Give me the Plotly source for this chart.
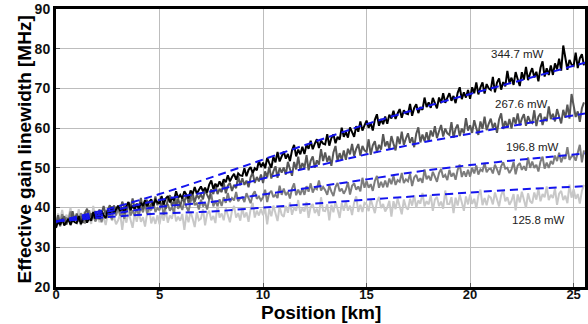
import plotly.graph_objects as go

# Sampling positions along the fibre [km] (0.1 km step, 0.0 .. 25.5)
positions_km = [round(i * 0.1, 1) for i in range(256)]

power_labels = ["344.7 mW", "267.6 mW", "196.8 mW", "125.8 mW"]

lw_344 = [
    34.9, 36.5, 35.7, 37.1, 35.5, 36.5, 37.2, 35.6, 36.9, 36.3,
    36.1, 37.9, 35.8, 37.2, 37.8, 36.2, 37.3, 36.7, 38.9, 37.2,
    38.0, 37.1, 39.0, 38.1, 37.3, 39.3, 38.3, 40.2, 38.5, 39.5,
    40.4, 39.1, 39.9, 38.6, 40.5, 41.4, 39.3, 40.5, 39.6, 40.9,
    39.6, 41.2, 40.4, 41.9, 40.3, 41.4, 42.1, 40.5, 41.9, 41.3,
    41.1, 42.9, 40.8, 42.3, 42.9, 41.3, 42.4, 41.8, 44.1, 42.4,
    43.2, 42.3, 44.1, 43.2, 42.3, 44.3, 43.4, 45.2, 43.5, 44.4,
    45.3, 44.1, 45.0, 43.8, 45.8, 46.8, 44.7, 46.0, 45.2, 46.6,
    45.4, 47.1, 46.4, 48.1, 46.6, 47.7, 48.5, 47.0, 48.6, 48.1,
    48.0, 49.9, 47.9, 49.5, 50.2, 48.7, 49.9, 49.4, 51.8, 50.2,
    51.3, 49.9, 52.5, 51.2, 50.0, 52.8, 51.4, 54.0, 51.6, 52.9,
    54.1, 52.3, 53.5, 51.7, 54.4, 55.8, 52.9, 54.6, 53.4, 55.3,
    53.5, 55.8, 54.8, 56.8, 54.7, 56.1, 57.2, 55.0, 56.9, 56.1,
    55.9, 58.5, 55.6, 57.5, 58.4, 56.2, 57.8, 57.1, 60.1, 57.8,
    59.0, 57.6, 60.2, 59.0, 57.8, 60.5, 59.1, 61.7, 59.4, 60.7,
    61.9, 60.1, 61.3, 59.4, 62.1, 63.5, 60.6, 62.3, 61.0, 62.9,
    61.1, 63.4, 62.4, 64.4, 62.3, 63.7, 64.8, 62.6, 64.5, 63.7,
    63.5, 66.1, 63.1, 65.1, 66.0, 63.8, 65.3, 64.6, 67.7, 65.3,
    66.5, 65.1, 67.6, 66.3, 65.0, 67.7, 66.3, 68.8, 66.4, 67.6,
    68.8, 66.9, 68.1, 66.3, 68.9, 70.3, 67.3, 69.0, 67.7, 69.6,
    67.4, 70.3, 68.8, 71.5, 68.5, 70.3, 71.5, 68.7, 71.1, 70.0,
    69.6, 72.9, 69.0, 71.5, 72.5, 69.7, 71.6, 70.5, 74.4, 71.4,
    72.7, 70.9, 74.1, 72.3, 70.6, 74.1, 72.2, 75.4, 72.1, 73.8,
    75.1, 72.8, 74.2, 71.8, 75.2, 76.8, 73.0, 75.1, 73.4, 75.8,
    73.4, 76.3, 74.8, 77.5, 74.5, 80.8, 77.6, 74.7, 77.2, 76.0,
    75.7, 79.0, 75.1, 77.6, 78.6, 75.8,
]

lw_267 = [
    35.7, 38.1, 35.3, 37.1, 37.8, 35.7, 37.0, 36.2, 39.1, 36.8,
    38.5, 36.7, 37.8, 36.1, 38.6, 39.7, 37.0, 38.5, 37.4, 39.1,
    37.3, 39.5, 38.4, 40.4, 38.3, 39.7, 40.6, 38.6, 40.4, 39.6,
    40.5, 39.2, 41.5, 40.1, 38.9, 41.3, 40.0, 42.3, 39.8, 41.0,
    40.1, 42.4, 39.5, 41.3, 41.9, 39.7, 41.0, 40.1, 42.8, 40.6,
    42.2, 40.4, 41.4, 39.6, 42.0, 43.1, 40.3, 41.8, 40.5, 42.2,
    40.3, 42.4, 41.4, 43.3, 41.2, 42.6, 43.5, 41.4, 43.2, 42.4,
    43.3, 42.1, 44.5, 43.2, 42.1, 44.6, 43.4, 45.8, 43.4, 44.7,
    43.9, 46.4, 43.6, 45.5, 46.2, 44.2, 45.7, 44.9, 47.9, 45.6,
    47.4, 45.7, 46.8, 45.1, 47.6, 48.8, 46.2, 47.7, 46.6, 48.3,
    46.2, 49.1, 47.6, 50.3, 47.3, 49.1, 50.4, 47.5, 50.0, 48.8,
    50.1, 48.3, 51.5, 49.7, 48.0, 51.5, 49.6, 52.8, 49.5, 51.2,
    50.0, 53.2, 49.4, 51.8, 52.9, 50.0, 51.9, 50.8, 54.7, 51.7,
    53.9, 51.5, 53.0, 50.5, 53.9, 55.5, 51.7, 53.7, 52.0, 54.4,
    52.0, 54.8, 53.4, 56.0, 53.0, 54.8, 56.0, 53.1, 55.5, 54.4,
    54.0, 57.2, 53.3, 55.7, 56.7, 53.9, 55.8, 54.6, 58.5, 55.4,
    56.7, 54.8, 58.0, 56.1, 54.4, 57.9, 56.0, 59.1, 55.8, 57.4,
    58.7, 56.3, 57.7, 55.2, 58.6, 60.2, 56.4, 58.4, 56.7, 59.0,
    56.6, 59.4, 57.9, 60.5, 57.5, 59.2, 60.8, 57.9, 59.9, 58.7,
    58.3, 61.5, 57.6, 59.9, 60.9, 58.0, 59.9, 58.7, 62.5, 59.4,
    60.7, 58.8, 62.0, 60.0, 58.3, 61.7, 59.8, 62.9, 59.5, 61.1,
    62.4, 60.0, 61.3, 58.8, 62.2, 63.7, 59.8, 61.8, 60.1, 62.3,
    59.9, 62.7, 61.1, 63.7, 60.7, 62.4, 63.5, 60.6, 63.0, 61.7,
    61.3, 64.5, 60.5, 62.9, 63.7, 60.8, 62.8, 61.7, 65.5, 62.3,
    63.6, 61.7, 64.8, 62.9, 61.2, 64.6, 62.6, 65.9, 62.4, 68.6,
    65.2, 62.8, 64.2, 61.6, 65.0, 66.5,
]

lw_196 = [
    35.4, 37.6, 36.2, 38.3, 36.0, 37.5, 36.8, 39.0, 36.5, 37.4,
    37.6, 36.4, 38.6, 37.2, 36.0, 38.3, 39.3, 37.1, 37.9, 36.5,
    37.5, 39.4, 36.3, 38.5, 39.2, 37.5, 38.3, 37.0, 40.6, 38.0,
    39.7, 38.0, 38.9, 37.2, 39.6, 40.9, 38.0, 39.3, 38.0, 39.7,
    38.0, 40.2, 38.8, 40.9, 38.5, 40.0, 39.3, 41.5, 38.9, 39.9,
    39.3, 41.2, 38.1, 40.3, 40.9, 39.2, 40.1, 38.7, 42.3, 39.7,
    40.6, 39.4, 41.6, 40.2, 39.0, 41.5, 42.6, 40.6, 41.2, 39.5,
    42.0, 40.3, 41.2, 39.5, 42.0, 43.3, 40.3, 41.7, 40.4, 42.1,
    40.4, 42.6, 41.2, 43.7, 41.4, 42.4, 41.8, 43.9, 41.6, 42.4,
    42.6, 41.4, 43.6, 42.4, 41.1, 43.2, 44.1, 42.2, 42.8, 41.8,
    42.6, 44.5, 41.4, 43.6, 44.2, 42.6, 43.3, 42.4, 45.5, 43.2,
    44.8, 43.1, 44.0, 42.3, 44.8, 46.1, 43.1, 44.5, 43.2, 44.9,
    43.2, 45.4, 44.0, 46.1, 43.8, 45.0, 44.6, 46.8, 44.3, 45.2,
    44.4, 43.2, 45.5, 44.0, 42.9, 45.2, 46.2, 44.1, 44.8, 43.5,
    44.5, 46.4, 43.3, 45.5, 46.1, 44.5, 45.3, 44.1, 47.5, 45.0,
    46.7, 45.0, 45.9, 44.2, 46.7, 48.0, 45.0, 46.5, 45.1, 46.8,
    45.1, 47.3, 45.9, 48.0, 45.7, 46.9, 46.5, 48.7, 46.2, 47.1,
    46.6, 48.5, 45.4, 47.6, 48.2, 46.6, 47.4, 46.2, 49.6, 47.1,
    48.0, 46.8, 49.0, 47.8, 46.5, 48.7, 49.7, 47.6, 48.2, 46.9,
    49.5, 47.8, 48.7, 47.0, 49.5, 50.8, 47.7, 49.1, 47.8, 49.5,
    47.8, 50.0, 48.6, 50.6, 48.3, 49.6, 49.2, 51.2, 48.9, 49.7,
    49.8, 48.6, 50.8, 49.6, 48.2, 50.4, 51.4, 49.8, 50.0, 48.7,
    49.6, 51.5, 48.4, 50.6, 51.2, 49.5, 50.4, 49.3, 52.6, 50.0,
    51.6, 50.0, 50.8, 49.1, 51.6, 52.8, 49.8, 51.3, 50.0, 51.7,
    50.9, 53.1, 51.7, 53.8, 51.4, 52.9, 52.3, 55.2, 52.0, 52.9,
    53.0, 51.8, 54.0, 55.8, 51.4, 54.4,
]

lw_125 = [
    35.8, 38.5, 36.8, 39.4, 36.3, 38.2, 37.3, 40.0, 36.6, 37.9,
    37.2, 39.6, 35.5, 38.3, 39.0, 36.7, 37.6, 35.9, 40.4, 37.0,
    38.0, 36.3, 39.2, 37.2, 35.6, 38.4, 39.6, 36.7, 37.7, 35.8,
    36.8, 38.5, 34.4, 38.3, 36.2, 38.9, 37.0, 34.9, 38.5, 36.4,
    38.8, 36.4, 37.6, 35.2, 38.4, 39.9, 36.0, 37.7, 35.9, 38.1,
    35.8, 38.5, 36.7, 39.3, 36.2, 38.0, 37.2, 39.9, 36.5, 37.7,
    36.7, 38.4, 34.4, 38.3, 36.3, 39.0, 37.2, 35.1, 38.8, 36.8,
    37.2, 39.6, 35.5, 38.4, 39.2, 36.8, 37.9, 36.1, 40.8, 37.5,
    38.5, 36.8, 39.8, 37.8, 36.3, 39.2, 40.4, 37.5, 38.6, 36.7,
    39.9, 37.5, 38.8, 36.4, 39.6, 41.2, 37.5, 39.2, 38.0, 39.6,
    38.1, 39.8, 35.8, 39.7, 37.8, 40.5, 38.8, 36.6, 40.3, 38.2,
    37.7, 40.4, 38.7, 41.3, 38.2, 40.0, 39.2, 41.9, 38.5, 39.8,
    39.0, 41.4, 37.4, 40.2, 40.9, 38.6, 39.7, 37.9, 42.6, 39.2,
    39.1, 40.8, 36.8, 40.7, 38.8, 41.5, 39.6, 37.4, 41.1, 39.2,
    41.6, 39.2, 40.5, 38.1, 41.3, 42.8, 38.9, 40.7, 38.9, 41.2,
    40.8, 39.1, 42.1, 40.1, 38.6, 41.4, 42.7, 39.9, 40.9, 39.0,
    40.0, 41.7, 37.7, 41.6, 39.6, 42.3, 40.5, 38.3, 42.0, 40.1,
    39.5, 42.2, 40.5, 43.1, 40.0, 41.8, 41.0, 43.7, 40.3, 41.6,
    40.8, 43.2, 39.2, 42.0, 42.7, 40.4, 41.5, 39.7, 44.3, 40.9,
    40.9, 42.6, 38.6, 42.5, 40.5, 43.2, 41.3, 39.2, 42.8, 40.8,
    43.3, 40.9, 42.2, 39.8, 43.0, 44.5, 40.6, 42.4, 40.6, 42.9,
    42.5, 40.8, 43.8, 41.8, 40.3, 43.1, 44.4, 41.6, 42.6, 40.7,
    41.7, 43.4, 39.3, 43.3, 41.3, 44.0, 42.1, 39.9, 43.6, 41.6,
    41.1, 43.8, 42.0, 44.7, 41.6, 43.4, 42.6, 45.3, 41.9, 43.2,
    42.4, 44.8, 40.7, 43.5, 44.2, 41.9, 43.0, 41.1, 45.8, 42.5,
    44.6, 42.2, 43.4, 41.0, 44.2, 45.7,
]

# Fitted (model) curves, sampled at knots
fit_km = [0, 2.5, 5, 7.5, 10, 12.5, 15, 17.5, 20, 22.5, 25.55]
fit_344 = [36.5, 39.6, 43.4, 47.6, 52.1, 56.6, 61.0, 64.9, 68.6, 72.1, 76.5]
fit_267 = [36.5, 39.0, 41.9, 44.1, 47.3, 50.4, 53.4, 56.2, 58.6, 61.0, 63.7]
fit_196 = [36.5, 38.3, 40.2, 41.4, 43.3, 45.2, 47.1, 49.1, 50.7, 52.1, 53.6]
fit_125 = [36.5, 37.6, 38.5, 39.0, 40.0, 41.0, 42.0, 42.9, 43.8, 44.6, 45.4]

label_x = [22.3, 22.5, 23.0, 23.3]
label_y = [78.6, 66.2, 55.2, 36.8]

x_title = "Position [km]"
y_title = "Effective gain linewidth [MHz]"

FONT = "Arial, Liberation Sans, Helvetica, sans-serif"

fig = go.Figure()

series = [
    (lw_125, "#c8c8c8"),
    (lw_196, "#7d7d7d"),
    (lw_267, "#575757"),
    (lw_344, "#000000"),
]
for ys, col in series:
    fig.add_trace(go.Scatter(x=positions_km, y=ys, mode="lines",
                             line=dict(color=col, width=2), showlegend=False,
                             hoverinfo="skip"))

for fy in [fit_125, fit_196, fit_267, fit_344]:
    fig.add_trace(go.Scatter(x=fit_km, y=fy, mode="lines",
                             line=dict(color="#1414ee", width=2, dash="8px,5px",
                                       shape="spline", smoothing=0.7),
                             showlegend=False, hoverinfo="skip"))

for lab, lx, ly in zip(power_labels, label_x, label_y):
    fig.add_annotation(x=lx, y=ly, text=lab, showarrow=False,
                       font=dict(family=FONT, size=11.5, color="#222222"))

# axis titles placed as annotations (paper coords relative to plot area)
fig.add_annotation(x=0.5, y=-0.092, xref="paper", yref="paper",
                   text="<b>" + x_title + "</b>", showarrow=False,
                   xanchor="center", yanchor="middle",
                   font=dict(family=FONT, size=19, color="black"))
fig.add_annotation(x=-0.0605, y=0.495, xref="paper", yref="paper",
                   text="<b>" + y_title + "</b>", showarrow=False, textangle=-90,
                   xanchor="center", yanchor="middle",
                   font=dict(family=FONT, size=19, color="black"))

fig.update_layout(
    width=588, height=324,
    margin=dict(l=56, r=3, t=9, b=37, autoexpand=False),
    paper_bgcolor="white", plot_bgcolor="white",
    font=dict(family=FONT, color="black"),
)
fig.update_xaxes(
    range=[0, 25.55], tickvals=[0, 5, 10, 15, 20, 25],
    showgrid=True, gridcolor="#bdbdbd", gridwidth=1,
    showline=True, linecolor="black", linewidth=3, mirror=True,
    ticks="inside", ticklen=4, tickcolor="#555555",
    tickfont=dict(family=FONT, size=13, color="#111111", weight="bold"),
    ticklabelstandoff=-7,
    zeroline=False, automargin=False,
)
fig.update_yaxes(
    range=[20, 90], tickvals=[20, 30, 40, 50, 60, 70, 80, 90],
    showgrid=True, gridcolor="#bdbdbd", gridwidth=1,
    showline=True, linecolor="black", linewidth=3, mirror=True,
    ticks="inside", ticklen=4, tickcolor="#555555",
    tickfont=dict(family=FONT, size=14, color="#111111", weight="bold"),
    zeroline=False, automargin=False,
)

fig.write_html("out.html", config={"displayModeBar": False},
               post_script="document.body.style.margin='0px';document.body.style.overflow='hidden';")
